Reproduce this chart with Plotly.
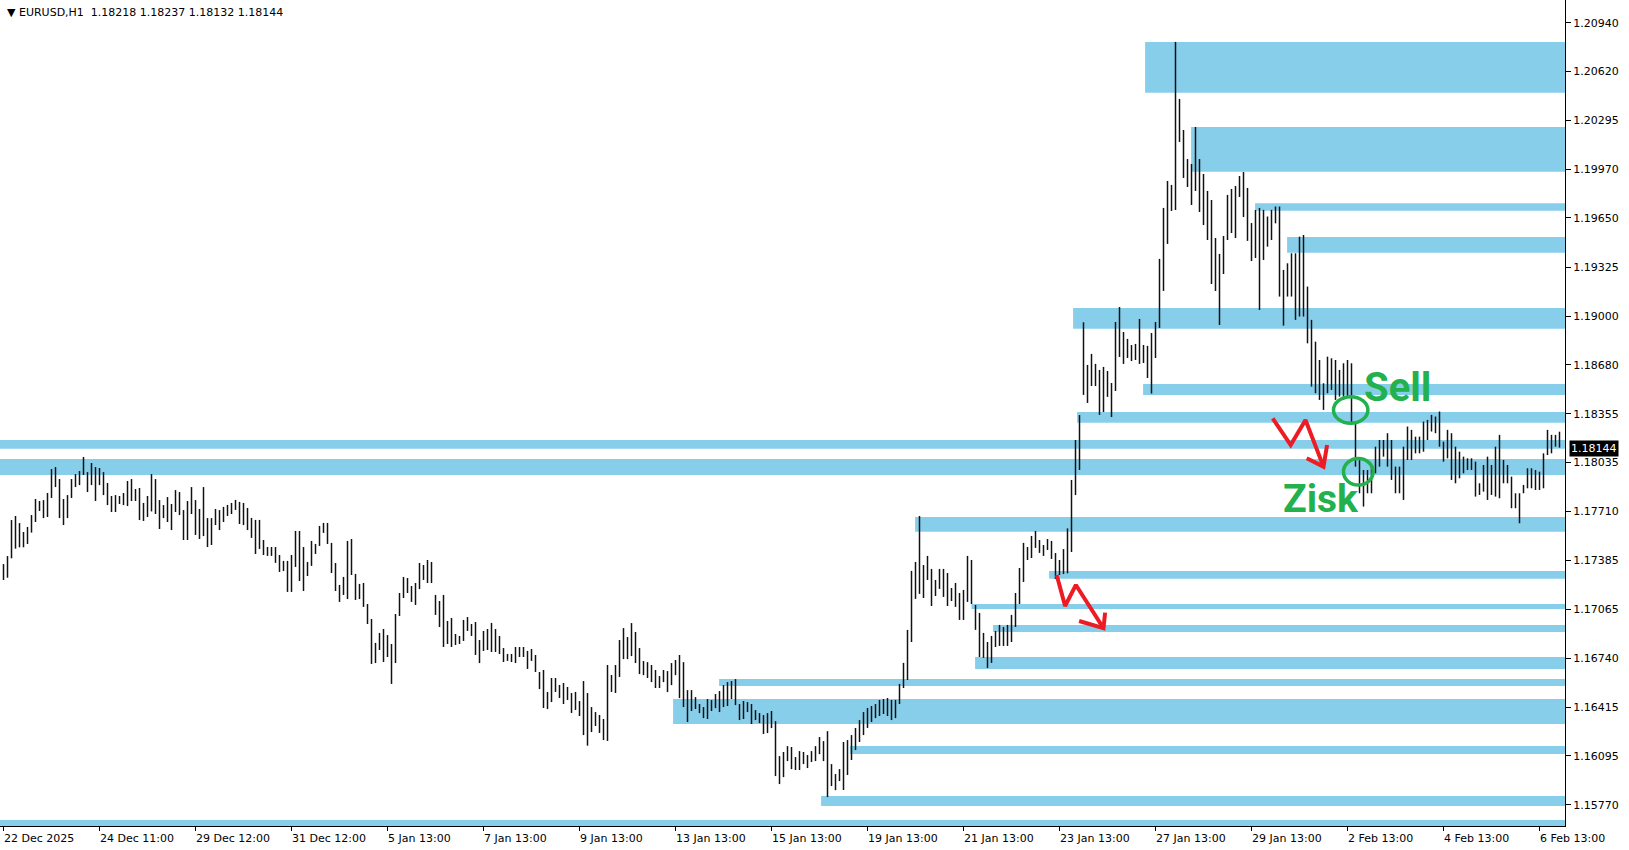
import plotly.graph_objects as go

# EURUSD H1, one bar here = two hours (high / low)
bar_high = [
    1.17362, 1.17415, 1.17653, 1.17680, 1.17633, 1.17574, 1.17607, 1.17686, 1.17792, 1.17779,
    1.17785, 1.17832, 1.17990, 1.18003, 1.17924, 1.17792, 1.17818, 1.17924, 1.17957, 1.17977,
    1.18070, 1.17970, 1.18030, 1.18003, 1.17997, 1.17970, 1.17898, 1.17812, 1.17818, 1.17812,
    1.17832, 1.17911, 1.17924, 1.17858, 1.17865, 1.17766, 1.17812, 1.17957, 1.17924, 1.17785,
    1.17752, 1.17805, 1.17759, 1.17851, 1.17838, 1.17719, 1.17779, 1.17871, 1.17785, 1.17726,
    1.17871, 1.17666, 1.17666, 1.17726, 1.17719,
    1.17740, 1.17753, 1.17766, 1.17786, 1.17773, 1.17766, 1.17733, 1.17667, 1.17654, 1.17654,
    1.17521, 1.17475, 1.17475, 1.17475, 1.17422, 1.17383, 1.17383, 1.17422, 1.17581, 1.17581,
    1.17475, 1.17376, 1.17515, 1.17495, 1.17614, 1.17634, 1.17634, 1.17502, 1.17369, 1.17224,
    1.17277, 1.17515, 1.17528, 1.17297, 1.17231, 1.17237, 1.17098, 1.16999, 1.16841, 1.16907,
    1.16933, 1.16893, 1.16834, 1.17032, 1.17171, 1.17277, 1.17270, 1.17217, 1.17237, 1.17369,
    1.17356, 1.17389, 1.17376, 1.17158, 1.17118, 1.17158, 1.16986, 1.17006, 1.16900, 1.16887,
    1.16993, 1.17012, 1.16966, 1.16979, 1.16860, 1.16920, 1.16933, 1.16973, 1.16933, 1.16887,
    1.16807, 1.16768, 1.16768, 1.16814, 1.16814, 1.16814, 1.16788, 1.16801, 1.16761, 1.16649,
    1.16662, 1.16517, 1.16609, 1.16609, 1.16563, 1.16576, 1.16550, 1.16510, 1.16517, 1.16457,
    1.16589, 1.16510, 1.16417, 1.16384, 1.16365, 1.16338, 1.16695, 1.16629, 1.16695, 1.16860,
    1.16939, 1.16880, 1.16972, 1.16913, 1.16807, 1.16721, 1.16714, 1.16695, 1.16662, 1.16622,
    1.16662, 1.16655, 1.16708, 1.16728, 1.16761, 1.16714, 1.16529, 1.16529, 1.16483, 1.16437,
    1.16417, 1.16470, 1.16463, 1.16503, 1.16523, 1.16562, 1.16582, 1.16589, 1.16602, 1.16437,
    1.16457, 1.16450, 1.16437, 1.16397, 1.16377, 1.16364, 1.16377, 1.16391, 1.16324, 1.16093,
    1.16120, 1.16159, 1.16153, 1.16087, 1.16126, 1.16120, 1.16100, 1.16126, 1.16159, 1.16219,
    1.16192, 1.16258, 1.16040, 1.15974, 1.16007,
    1.16186, 1.16199, 1.16232, 1.16279, 1.16331, 1.16384, 1.16411, 1.16424, 1.16437, 1.16464,
    1.16470, 1.16477, 1.16464, 1.16464, 1.16570,
    1.16709, 1.16927, 1.17317, 1.17376, 1.17680, 1.17356, 1.17416, 1.17330, 1.17257, 1.17330,
    1.17330, 1.17303, 1.17204, 1.17237, 1.17171, 1.17191, 1.17416, 1.17389, 1.17092, 1.17039,
    1.16907, 1.16847, 1.16887, 1.16920, 1.16960, 1.16946, 1.16960, 1.17026, 1.17171, 1.17336,
    1.17502, 1.17475, 1.17548, 1.17581, 1.17521, 1.17488, 1.17528, 1.17515,
    1.17435, 1.17389, 1.17461, 1.17598, 1.17918, 1.18182, 1.18347,
    1.18960, 1.18678, 1.18751, 1.18685, 1.18645, 1.18665, 1.18638, 1.18559, 1.18962, 1.19061,
    1.18896, 1.18850, 1.18810, 1.18817, 1.18982, 1.18810, 1.18804, 1.18889, 1.18962, 1.19379,
    1.19716, 1.19894, 1.19868, 1.20813, 1.20436, 1.20231, 1.20039, 1.20006, 1.20251, 1.20039,
    1.19940, 1.19828, 1.19768, 1.19517, 1.19412, 1.19530, 1.19802, 1.19841, 1.19861, 1.19927,
    1.19953, 1.19848, 1.19616, 1.19702, 1.19716,
    1.19703, 1.19659, 1.19703, 1.19725, 1.19725, 1.19306, 1.19350, 1.19416, 1.19416, 1.19526,
    1.19537, 1.19196, 1.18976, 1.18832, 1.18711, 1.18557, 1.18733, 1.18722, 1.18711, 1.18645,
    1.18689, 1.18711, 1.18689, 1.18293, 1.18050, 1.17984, 1.17984, 1.18006, 1.18138, 1.18182,
    1.18182, 1.18227, 1.18182, 1.18006, 1.18006, 1.18138, 1.18271, 1.18249, 1.18204, 1.18204,
    1.18304, 1.18315, 1.18348, 1.18337, 1.18370, 1.18171, 1.18249, 1.18227, 1.18138, 1.18105,
    1.18072, 1.18061, 1.18061, 1.18039, 1.17896, 1.18017, 1.18072, 1.18017, 1.18138, 1.18216,
    1.18050, 1.18017, 1.17940, 1.17830, 1.17830, 1.17885, 1.17995, 1.17995, 1.17984, 1.17973,
    1.18094, 1.18249, 1.18216, 1.18216, 1.18237,
]
bar_low = [
    1.17257, 1.17272, 1.17400, 1.17464, 1.17473, 1.17473, 1.17495, 1.17570, 1.17640, 1.17713,
    1.17666, 1.17673, 1.17799, 1.17871, 1.17666, 1.17620, 1.17666, 1.17799, 1.17871, 1.17884,
    1.17951, 1.17838, 1.17884, 1.17779, 1.17884, 1.17818, 1.17752, 1.17706, 1.17706, 1.17759,
    1.17752, 1.17746, 1.17779, 1.17779, 1.17653, 1.17647, 1.17673, 1.17710, 1.17693, 1.17594,
    1.17666, 1.17640, 1.17587, 1.17706, 1.17686, 1.17521, 1.17521, 1.17693, 1.17554, 1.17528,
    1.17547, 1.17475, 1.17488, 1.17620, 1.17587,
    1.17640, 1.17680, 1.17693, 1.17720, 1.17627, 1.17620, 1.17587, 1.17535, 1.17429, 1.17462,
    1.17422, 1.17416, 1.17416, 1.17370, 1.17310, 1.17316, 1.17178, 1.17178, 1.17343, 1.17250,
    1.17184, 1.17283, 1.17350, 1.17429, 1.17482, 1.17568, 1.17495, 1.17303, 1.17184, 1.17112,
    1.17158, 1.17131, 1.17290, 1.17125, 1.17131, 1.17079, 1.16966, 1.16702, 1.16708, 1.16794,
    1.16715, 1.16748, 1.16570, 1.16708, 1.17019, 1.17138, 1.17171, 1.17112, 1.17092, 1.17197,
    1.17257, 1.17237, 1.17237, 1.17026, 1.16946, 1.16814, 1.16834, 1.16814, 1.16827, 1.16834,
    1.16854, 1.16920, 1.16887, 1.16761, 1.16708, 1.16788, 1.16794, 1.16781, 1.16781, 1.16768,
    1.16715, 1.16722, 1.16715, 1.16708, 1.16748, 1.16748, 1.16669, 1.16722, 1.16649, 1.16536,
    1.16411, 1.16404, 1.16450, 1.16517, 1.16477, 1.16437, 1.16464, 1.16378, 1.16398, 1.16358,
    1.16232, 1.16162, 1.16252, 1.16292, 1.16246, 1.16199, 1.16193, 1.16517, 1.16510, 1.16616,
    1.16734, 1.16734, 1.16754, 1.16708, 1.16635, 1.16628, 1.16609, 1.16582, 1.16543, 1.16543,
    1.16582, 1.16516, 1.16562, 1.16628, 1.16476, 1.16417, 1.16318, 1.16391, 1.16404, 1.16377,
    1.16344, 1.16338, 1.16391, 1.16410, 1.16384, 1.16417, 1.16424, 1.16470, 1.16430, 1.16331,
    1.16338, 1.16384, 1.16305, 1.16331, 1.16311, 1.16239, 1.16245, 1.16278, 1.15961, 1.15908,
    1.15954, 1.16060, 1.16007, 1.16001, 1.16001, 1.16040, 1.16014, 1.16054, 1.16060, 1.16106,
    1.16060, 1.15822, 1.15895, 1.15868, 1.15928,
    1.15869, 1.15968, 1.16067, 1.16133, 1.16186, 1.16232, 1.16279, 1.16318, 1.16344, 1.16358,
    1.16371, 1.16358, 1.16331, 1.16344, 1.16437,
    1.16543, 1.16596, 1.16847, 1.17132, 1.17165, 1.17138, 1.17257, 1.17085, 1.17151, 1.17198,
    1.17145, 1.17085, 1.17118, 1.17079, 1.16993, 1.16993, 1.17112, 1.17098, 1.16927, 1.16748,
    1.16742, 1.16676, 1.16709, 1.16814, 1.16821, 1.16821, 1.16821, 1.16847, 1.16946, 1.17098,
    1.17244, 1.17389, 1.17402, 1.17469, 1.17436, 1.17416, 1.17455, 1.17396,
    1.17263, 1.17290, 1.17296, 1.17301, 1.17442, 1.17818, 1.17984,
    1.18480, 1.18427, 1.18539, 1.18539, 1.18348, 1.18367, 1.18467, 1.18334, 1.18506, 1.18731,
    1.18685, 1.18724, 1.18704, 1.18711, 1.18685, 1.18691, 1.18592, 1.18489, 1.18724, 1.18923,
    1.19167, 1.19478, 1.19696, 1.19702, 1.20152, 1.19914, 1.19854, 1.19735, 1.19828, 1.19689,
    1.19603, 1.19504, 1.19213, 1.19167, 1.18942, 1.19279, 1.19504, 1.19550, 1.19517, 1.19788,
    1.19656, 1.19498, 1.19365, 1.19385, 1.19041,
    1.19372, 1.19460, 1.19504, 1.19614, 1.19130, 1.18938, 1.19130, 1.19130, 1.18976, 1.18998,
    1.18998, 1.18821, 1.18535, 1.18491, 1.18447, 1.18381, 1.18491, 1.18513, 1.18447, 1.18469,
    1.18447, 1.18469, 1.18293, 1.18006, 1.17830, 1.17742, 1.17830, 1.17830, 1.17962, 1.18006,
    1.18072, 1.18006, 1.17918, 1.17830, 1.17830, 1.17786, 1.18050, 1.18050, 1.18094, 1.18094,
    1.18105, 1.18182, 1.18238, 1.18227, 1.18138, 1.18039, 1.18061, 1.17918, 1.17896, 1.17929,
    1.17962, 1.17984, 1.17984, 1.17808, 1.17819, 1.17841, 1.17786, 1.17819, 1.17808, 1.17797,
    1.17896, 1.17896, 1.17731, 1.17731, 1.17632, 1.17830, 1.17863, 1.17863, 1.17852, 1.17852,
    1.17863, 1.18083, 1.18094, 1.18138, 1.18132,
]

tick_labels = ["22 Dec 2025", "24 Dec 11:00", "29 Dec 12:00", "31 Dec 12:00", "5 Jan 13:00",
               "7 Jan 13:00", "9 Jan 13:00", "13 Jan 13:00", "15 Jan 13:00", "19 Jan 13:00",
               "21 Jan 13:00", "23 Jan 13:00", "27 Jan 13:00", "29 Jan 13:00", "2 Feb 13:00",
               "4 Feb 13:00", "6 Feb 13:00"]
price_ticks = [1.20940, 1.20620, 1.20295, 1.19970, 1.19650, 1.19325, 1.19000, 1.18680, 1.18355,
               1.18035, 1.17710, 1.17385, 1.17065, 1.16740, 1.16415, 1.16095, 1.15770]

# supply / demand zones: start bar, top, bottom (they run to the right edge)
zone_start = [285.4, 296.9, 312.9, 320.9, 267.4, 284.9, 268.4, -5, -5, 227.9,
              261.4, 242.0, 247.4, 242.9, 178.9, 167.4, 211.6, 204.4, -5]
zone_top = [1.20812, 1.20251, 1.19746, 1.19524, 1.19054, 1.18552, 1.18367, 1.18182, 1.18056, 1.17673,
            1.17316, 1.17098, 1.16959, 1.16748, 1.16602, 1.16470, 1.16160, 1.15829, 1.15670]
zone_bottom = [1.20477, 1.19955, 1.19697, 1.19420, 1.18918, 1.18479, 1.18296, 1.18124, 1.17951, 1.17576,
               1.17265, 1.17065, 1.16913, 1.16669, 1.16556, 1.16305, 1.16107, 1.15763, 1.15600]

# hand drawn red arrows (bar, price)
arrow1_x = [317.3, 321.8, 325.5, 330.0]
arrow1_y = [1.18325, 1.18149, 1.18314, 1.18006]
arrow1_head_x = [325.8, 330.0, 330.9]
arrow1_head_y = [1.18061, 1.18006, 1.18149]
arrow2_x = [263.3, 265.4, 268.1, 275.0]
arrow2_y = [1.17290, 1.17085, 1.17224, 1.16938]
arrow2_head_x = [268.9, 275.0, 275.4]
arrow2_head_y = [1.16986, 1.16938, 1.17041]

last_price = 1.18144
header = "\u25bc EURUSD,H1\u00a0\u00a01.18218 1.18237 1.18132 1.18144"

GREEN = "#22B14C"
RED = "#ED1C24"
ZONE = "#87CEEB"
FONT = "DejaVu Sans"
NOTE_FONT = "Liberation Sans Narrow, Roboto, sans-serif"

seg_x, seg_y = [], []
for i, (h, l) in enumerate(zip(bar_high, bar_low)):
    seg_x += [i, i, None]
    seg_y += [l, h, None]

fig = go.Figure()
fig.add_trace(go.Scatter(x=seg_x, y=seg_y, mode="lines",
                         line=dict(color="#111111", width=1.5), hoverinfo="skip"))

for a_x, a_y in [(arrow1_x, arrow1_y), (arrow1_head_x, arrow1_head_y),
                 (arrow2_x, arrow2_y), (arrow2_head_x, arrow2_head_y)]:
    fig.add_trace(go.Scatter(x=a_x, y=a_y, mode="lines",
                             line=dict(color=RED, width=4), hoverinfo="skip"))

for x0, top, bot in zip(zone_start, zone_top, zone_bottom):
    fig.add_shape(type="rect", xref="x", yref="y", x0=x0, x1=420, y0=bot, y1=top,
                  fillcolor=ZONE, line_width=0, layer="below")

# circles around the entry and exit
fig.add_shape(type="circle", xref="x", yref="y", x0=332.5, x1=341.1, y0=1.18292, y1=1.18468,
              line=dict(color=GREEN, width=3.5))
fig.add_shape(type="circle", xref="x", yref="y", x0=335.0, x1=342.4, y0=1.17884, y1=1.18060,
              line=dict(color=GREEN, width=3.5))

fig.add_annotation(x=348.6, y=1.18532, xref="x", yref="y", text="<b>Sell</b>", showarrow=False,
                   font=dict(family=NOTE_FONT, size=40, color=GREEN))
fig.add_annotation(x=329.4, y=1.17795, xref="x", yref="y", text="<b>Zisk</b>", showarrow=False,
                   font=dict(family=NOTE_FONT, size=39, color=GREEN))

tick_pos = [24.0 * k for k in range(len(tick_labels))]
for pos, lab in zip(tick_pos, tick_labels):
    fig.add_annotation(x=pos, y=0, xref="x", yref="paper", text=lab, showarrow=False,
                       xanchor="left", yanchor="top", yshift=-4, xshift=-2,
                       font=dict(family=FONT, size=11, color="black"))

fig.add_annotation(x=1, y=last_price, xref="paper", yref="y", text="%.5f" % last_price,
                   showarrow=False, xanchor="left", xshift=4, yshift=-3, bgcolor="black",
                   borderpad=1, font=dict(family=FONT, size=11, color="white"))
fig.add_annotation(x=0, y=1, xref="paper", yref="paper", text=header, showarrow=False,
                   xanchor="left", yanchor="top", xshift=5, yshift=-4,
                   font=dict(family=FONT, size=11, color="black"))

fig.update_layout(
    width=1629, height=850,
    margin=dict(l=0, r=64, t=0, b=24, pad=0),
    plot_bgcolor="white", paper_bgcolor="white",
    showlegend=False,
    xaxis=dict(range=[-0.875, 390.375], tickvals=tick_pos, showticklabels=False,
               ticks="outside", ticklen=4, tickcolor="black",
               showgrid=False, zeroline=False, showline=True, linecolor="black",
               linewidth=1, mirror=True),
    yaxis=dict(range=[1.15631, 1.21090], side="right", tickvals=price_ticks,
               ticktext=["%.5f" % p for p in price_ticks],
               ticks="outside", ticklen=5, tickcolor="black",
               tickfont=dict(family=FONT, size=11, color="black"),
               showgrid=False, zeroline=False, showline=True, linecolor="black",
               linewidth=1, mirror=True),
)

fig.write_html("out.html", config={"displayModeBar": False},
               post_script="document.body.style.margin='0';document.body.style.overflow='hidden';")
